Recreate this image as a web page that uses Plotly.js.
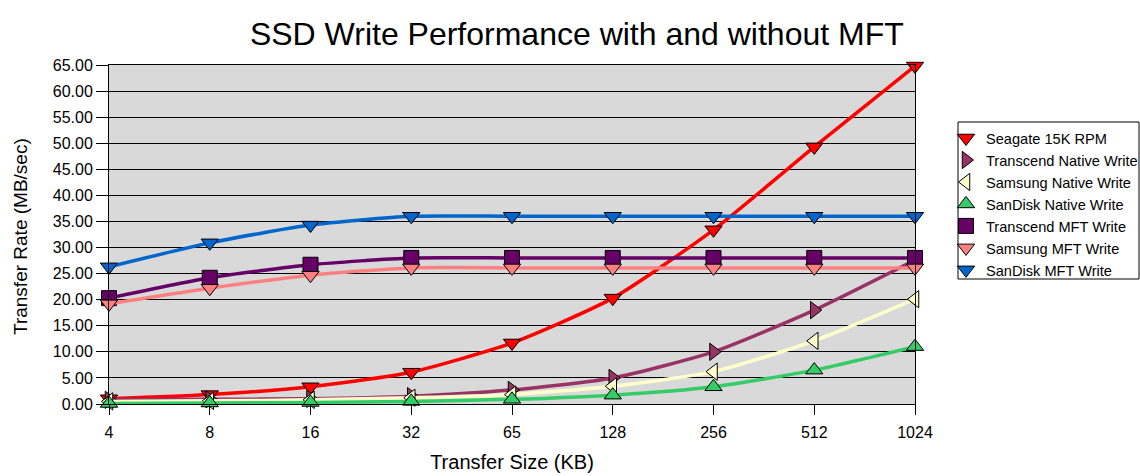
<!DOCTYPE html>
<html><head><meta charset="utf-8">
<script src="https://cdn.plot.ly/plotly-3.0.1.min.js"></script>
<style>html,body{margin:0;padding:0;background:#fff}</style>
</head><body><div id="chart" style="width:1140px;height:476px"></div>
<script>
const sizes = ["4","8","16","32","65","128","256","512","1024"];
const seriesNames = ["Seagate 15K RPM","Transcend Native Write","Samsung Native Write","SanDisk Native Write","Transcend MFT Write","Samsung MFT Write","SanDisk MFT Write"];
const seagate = [1.0, 1.8, 3.3, 6.1, 11.7, 20.3, 33.4, 49.3, 64.8];
const transcendNative = [0.8, 0.9, 1.0, 1.5, 2.7, 5.0, 10.0, 18.0, 27.6];
const samsungNative = [0.5, 0.6, 0.8, 1.2, 1.8, 3.4, 6.2, 12.1, 20.1];
const sandiskNative = [0.1, 0.2, 0.3, 0.5, 0.9, 1.7, 3.3, 6.5, 11.0];
const transcendMFT = [20.3, 24.2, 26.7, 28.0, 28.0, 28.0, 28.0, 28.0, 28.0];
const samsungMFT = [19.2, 22.2, 24.7, 26.1, 26.1, 26.1, 26.1, 26.1, 26.1];
const sandiskMFT = [26.3, 30.9, 34.3, 36.0, 36.0, 36.0, 36.0, 36.0, 36.0];

const seriesValues = [seagate, transcendNative, samsungNative, sandiskNative, transcendMFT, samsungMFT, sandiskMFT];
const colors = ['#FF0000','#993366','#FFFFCC','#33CC66','#660066','#FF8080','#0066CC'];
const symbols = ['triangle-down','triangle-right','triangle-left','triangle-up','square','triangle-down','triangle-down'];

const xIdx = sizes.map((s,i)=>i);
const data = [];
seriesValues.forEach((y,i)=>{
  data.push({x:xIdx, y:y, name:seriesNames[i], type:'scatter', mode:'lines', cliponaxis:false,
    showlegend:false, legendgroup:'g'+i, hoverinfo:'skip',
    line:{color:colors[i], width:3.5, shape:'spline', smoothing:0.6}});
  data.push({x:xIdx, y:y, name:seriesNames[i], type:'scatter', mode:'markers', cliponaxis:false,
    legendgroup:'g'+i,
    marker:{symbol:symbols[i], size:15, color:colors[i], line:{color:'#000', width:1}}});
});

const P = (px)=> (px-109)/806;
const Q = (py)=> (404-py)/339;
const layout = {
  width:1140, height:476,
  margin:{l:109, r:225, t:65, b:72, autoexpand:false},
  paper_bgcolor:'#fff', plot_bgcolor:'#D9D9D9',
  font:{family:'Liberation Sans, Arial, sans-serif', color:'#000', size:15},
  title:{text:'SSD Write Performance with and without MFT', x:0.506, xanchor:'center', y:0.928, yanchor:'middle',
    font:{size:32, color:'#000'}},
  xaxis:{range:[0,8], tickmode:'array', tickvals:xIdx, ticktext:sizes, showgrid:false, zeroline:false,
    ticks:'outside', ticklen:10, tickcolor:'#000', showline:true, linecolor:'#000', linewidth:1, mirror:true,
    ticklabelstandoff:4,
    title:{text:'Transfer Size (KB)', font:{size:20}, standoff:14}, tickfont:{size:16}},
  yaxis:{range:[0,65], dtick:5, tickformat:'.2f', showgrid:true, gridcolor:'#000', gridwidth:1, zeroline:false,
    ticks:'outside', ticklen:12, tickcolor:'#000', showline:true, linecolor:'#000', linewidth:1, mirror:true,
    tickfont:{size:16}},
  annotations:[{text:'Transfer Rate (MB/sec)', xref:'paper', yref:'paper', x:P(20), y:Q(237),
    xanchor:'center', yanchor:'middle', textangle:-90, showarrow:false, font:{size:19}}],
  showlegend:true,
  legend:{x:P(946), xanchor:'left', y:Q(122), yanchor:'top', bgcolor:'rgba(0,0,0,0)', borderwidth:0,
    font:{size:14.6}, tracegroupgap:0, itemwidth:30, itemsizing:'trace'},
  shapes:[{type:'rect', xref:'paper', yref:'paper', x0:P(958), x1:P(1139), y0:Q(279), y1:Q(122),
    line:{color:'#000', width:1}, fillcolor:'#fff', layer:'above'}]
};
Plotly.newPlot('chart', data, layout, {displayModeBar:false});
</script></body></html>
